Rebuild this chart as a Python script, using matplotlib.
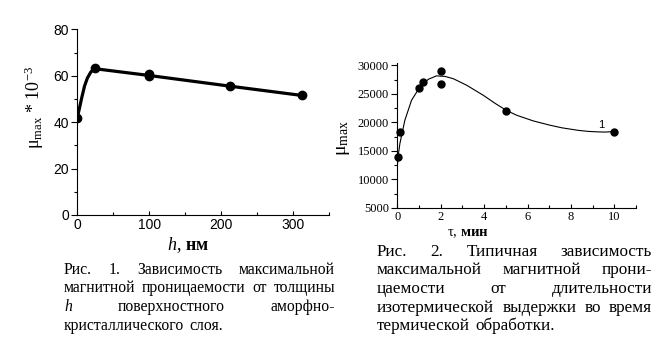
import matplotlib
matplotlib.use("Agg")
import matplotlib.pyplot as plt
from matplotlib.ticker import MultipleLocator

plt.rcParams['mathtext.fontset'] = 'custom'
plt.rcParams['mathtext.rm'] = 'Liberation Serif'
plt.rcParams['mathtext.it'] = 'Liberation Serif:italic'
plt.rcParams['mathtext.bf'] = 'Liberation Serif:bold'
plt.rcParams['mathtext.default'] = 'regular'

W, H = 664, 344

# --- Fig. 1: mu_max vs thickness h ---
h_pts = [0, 25, 100, 100, 212, 312]
mu1_pts = [42, 63.2, 60.7, 59.8, 55.6, 51.5]
# fitted line
h_fit = [0, 3, 6, 10, 14, 19, 25, 100, 212, 312]
mu1_fit = [42, 46, 50.3, 55.5, 59, 61.7, 63, 60.1, 55.5, 51.5]

# --- Fig. 2: mu_max vs isothermal time tau ---
t_pts = [0.05, 0.12, 1.0, 1.2, 2.0, 2.0, 5.0, 10.0]
mu2_pts = [13900, 18400, 26000, 27000, 29000, 26800, 22000, 18400]
# fitted curve
t_fit = [0, 0.05, 0.12, 0.35, 0.66, 1.05, 1.43, 1.81, 2.2, 2.58, 3.2, 3.96,
         4.5, 5.0, 5.5, 6.27, 7.04, 7.58, 8.34, 8.8, 9.26, 9.6, 10]
mu2_fit = [12300, 14400, 16300, 20400, 23900, 26250, 27550, 28150, 28050,
           27650, 26500, 24750, 23350, 22150, 21250, 20250, 19500, 19050,
           18600, 18420, 18330, 18300, 18400]

cap1 = [["Рис.", "1.", "Зависимость", "максимальной"],
        ["магнитной", "проницаемости", "от", "толщины"],
        ["h", "поверхностного", "аморфно-"],
        ["кристаллического", "слоя."]]
cap2 = [["Рис.", "2.", "Типичная", "зависимость"],
        ["максимальной", "магнитной", "прони-"],
        ["цаемости", "от", "длительности"],
        ["изотермической", "выдержки", "во", "время"],
        ["термической", "обработки."]]

fig = plt.figure(figsize=(W / 100, H / 100), dpi=100)
fig.patch.set_facecolor('white')

def px(x, y):
    return x / W, 1 - y / H

# left axes
ax1 = fig.add_axes([77.3 / W, 1 - 215 / H, 252 / W, 185.7 / H])
ax1.plot(h_fit, mu1_fit, color='black', lw=2.3, solid_capstyle='round')
ax1.plot(h_pts, mu1_pts, 'o', color='black', ms=6)
ax1.set_xlim(0, 350)
ax1.set_ylim(0, 80)
ax1.xaxis.set_major_locator(MultipleLocator(100))
ax1.xaxis.set_minor_locator(MultipleLocator(50))
ax1.yaxis.set_major_locator(MultipleLocator(20))
ax1.yaxis.set_minor_locator(MultipleLocator(10))

# right axes
ax2 = fig.add_axes([397.3 / W, 1 - 208 / H, 238.7 / W, 145 / H])
ax2.plot(t_fit, mu2_fit, color='black', lw=0.8)
ax2.plot(t_pts, mu2_pts, 'o', color='black', ms=5, clip_on=False)
ax2.set_xlim(0, 11)
ax2.set_ylim(5000, 30400)
ax2.xaxis.set_major_locator(MultipleLocator(2))
ax2.xaxis.set_minor_locator(MultipleLocator(1))
ax2.yaxis.set_major_locator(MultipleLocator(5000))
ax2.yaxis.set_minor_locator(MultipleLocator(2500))
ax2.text(9.42, 19600, "1", fontsize=8, family='Liberation Sans',
         ha='center', va='center')

for ax in (ax1, ax2):
    ax.spines['top'].set_visible(False)
    ax.spines['right'].set_visible(False)
    for s in ('left', 'bottom'):
        ax.spines[s].set_linewidth(0.8)
    ax.tick_params(axis='y', which='major', direction='out', length=4, width=0.8)
    ax.tick_params(axis='y', which='minor', direction='out', length=2, width=0.8)
    ax.tick_params(axis='x', which='major', direction='in', length=3, width=0.8)
    ax.tick_params(axis='x', which='minor', direction='in', length=2, width=0.8)

for lab in ax1.get_xticklabels() + ax1.get_yticklabels():
    lab.set_family('Liberation Sans')
    lab.set_fontsize(10)
ax1.tick_params(pad=2)
for lab in ax2.get_xticklabels() + ax2.get_yticklabels():
    lab.set_family('Liberation Serif')
    lab.set_fontsize(9)
ax2.tick_params(pad=2)

# axis labels
fig.text(*px(34, 107), r'μ$_{\mathregular{max}}$ * 10$^{\mathregular{-3}}$',
         rotation=90, ha='center', va='center', fontsize=13,
         family='Liberation Serif')
fig.text(*px(188, 245), r'$\mathit{h}$, $\mathbf{нм}$', ha='center',
         va='center', fontsize=13, family='Liberation Serif')
fig.text(*px(343, 138), r'μ$_{\mathregular{max}}$', rotation=90,
         ha='center', va='center', fontsize=14, family='Liberation Serif')
fig.text(*px(468, 233), r'τ, $\mathbf{мин}$', ha='center', va='center',
         fontsize=10.5, family='Liberation Serif')

# justified captions
renderer = fig.canvas.get_renderer()

def put_line(words, x0, x1, y, justify=True, size=12):
    arts = []
    for w in words:
        style = 'italic' if w == 'h' else 'normal'
        arts.append(fig.text(0, 0, w, fontsize=size, family='Liberation Serif',
                             style=style, ha='left', va='center'))
    widths = [a.get_window_extent(renderer).width for a in arts]
    if justify and len(words) > 1:
        gap = (x1 - x0 - sum(widths)) / (len(words) - 1)
    else:
        gap = size * 0.3 * 100 / 72
    x = x0
    for a, w in zip(arts, widths):
        a.set_position(px(x, y))
        x += w + gap

for i, line in enumerate(cap1):
    put_line(line, 64, 335, 270 + 18.5 * i, justify=i < len(cap1) - 1,
             size=11.3)
for i, line in enumerate(cap2):
    put_line(line, 377, 652, 252 + 18.5 * i, justify=i < len(cap2) - 1,
             size=12.3)

fig.savefig('out.png', dpi=100, facecolor='white')
